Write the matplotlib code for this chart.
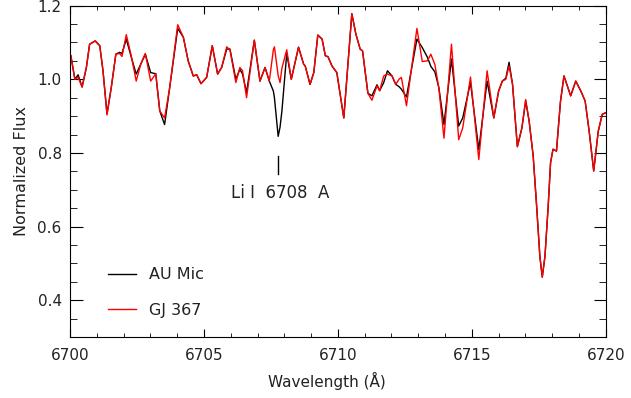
import numpy as np
import matplotlib
matplotlib.use("Agg")
import matplotlib.pyplot as plt
from matplotlib.ticker import MultipleLocator

# wavelength grid (Angstrom)
wave = [6700.03, 6700.18, 6700.30, 6700.45, 6700.61, 6700.73, 6700.94, 6701.11,
        6701.23, 6701.38, 6701.54, 6701.71, 6701.85, 6701.94, 6702.10, 6702.29,
        6702.47, 6702.64, 6702.81, 6703.01, 6703.20, 6703.35, 6703.53, 6703.72,
        6704.02, 6704.23, 6704.41, 6704.60, 6704.73, 6704.89, 6705.10, 6705.31,
        6705.51, 6705.66, 6705.85, 6705.97, 6706.19, 6706.34, 6706.44, 6706.59,
        6706.88, 6707.09, 6707.28, 6707.44, 6707.59, 6707.63, 6707.77, 6707.84,
        6707.91, 6708.09, 6708.26, 6708.53, 6708.72, 6708.78, 6708.96, 6709.10,
        6709.25, 6709.41, 6709.53, 6709.63, 6709.78, 6709.96, 6710.22, 6710.52,
        6710.67, 6710.83, 6710.92, 6711.12, 6711.27, 6711.46, 6711.56, 6711.71,
        6711.85, 6712.02, 6712.16, 6712.28, 6712.37, 6712.56, 6712.95, 6713.15,
        6713.34, 6713.47, 6713.62, 6713.77, 6713.96, 6714.24, 6714.51, 6714.66,
        6714.95, 6715.26, 6715.57, 6715.82, 6716.00, 6716.14, 6716.27, 6716.39,
        6716.52, 6716.70, 6716.87, 6717.01, 6717.14, 6717.29, 6717.42, 6717.54,
        6717.63, 6717.73, 6717.85, 6717.94, 6718.03, 6718.16, 6718.22, 6718.31,
        6718.44, 6718.69, 6718.88, 6719.07, 6719.23, 6719.38, 6719.55, 6719.72,
        6719.87, 6720.00]

# AU Mic (black)
flux_aumic = [1.064, 1.000, 1.012, 0.979, 1.032, 1.095, 1.104, 1.091,
              1.023, 0.906, 0.978, 1.068, 1.073, 1.070, 1.109, 1.059,
              1.014, 1.041, 1.068, 1.018, 1.015, 0.914, 0.877, 0.977,
              1.138, 1.114, 1.050, 1.009, 1.012, 0.988, 1.005, 1.091,
              1.014, 1.032, 1.082, 1.082, 1.000, 1.027, 1.014, 0.964,
              1.106, 0.995, 1.032, 0.995, 0.968, 0.950, 0.845, 0.870,
              0.914, 1.070, 1.000, 1.087, 1.041, 1.036, 0.986, 1.018,
              1.120, 1.109, 1.064, 1.061, 1.036, 1.018, 0.895, 1.178,
              1.123, 1.082, 1.077, 0.962, 0.955, 0.985, 0.969, 0.991,
              1.023, 1.009, 0.986, 0.980, 0.973, 0.952, 1.109, 1.086,
              1.060, 1.035, 1.020, 0.977, 0.877, 1.055, 0.873, 0.895,
              0.991, 0.809, 0.995, 0.895, 0.968, 0.995, 1.003, 1.046,
              0.986, 0.817, 0.868, 0.941, 0.886, 0.792, 0.655, 0.519,
              0.463, 0.519, 0.655, 0.774, 0.810, 0.805, 0.860, 0.940,
              1.009, 0.955, 0.995, 0.968, 0.941, 0.859, 0.751, 0.859,
              0.905, 0.909]

# GJ 367 (red)
flux_gj367 = [1.064, 1.000, 1.005, 0.979, 1.032, 1.095, 1.104, 1.091,
              1.023, 0.903, 0.978, 1.068, 1.070, 1.062, 1.121, 1.062,
              0.995, 1.041, 1.070, 0.995, 1.015, 0.914, 0.895, 0.977,
              1.148, 1.114, 1.050, 1.009, 1.012, 0.988, 1.005, 1.091,
              1.014, 1.032, 1.088, 1.080, 0.991, 1.032, 1.023, 0.950,
              1.106, 0.995, 1.032, 0.995, 1.080, 1.088, 1.010, 0.991,
              1.030, 1.080, 1.000, 1.087, 1.041, 1.036, 0.986, 1.018,
              1.120, 1.109, 1.064, 1.061, 1.036, 1.018, 0.895, 1.178,
              1.123, 1.082, 1.077, 0.962, 0.943, 0.982, 0.969, 1.009,
              1.014, 1.009, 0.986, 1.000, 1.005, 0.928, 1.138, 1.048,
              1.050, 1.068, 1.040, 0.975, 0.840, 1.095, 0.836, 0.868,
              1.006, 0.782, 1.023, 0.895, 0.968, 0.995, 1.000, 1.036,
              0.986, 0.817, 0.868, 0.945, 0.886, 0.792, 0.655, 0.519,
              0.463, 0.519, 0.655, 0.774, 0.810, 0.805, 0.860, 0.940,
              1.009, 0.955, 0.995, 0.968, 0.941, 0.859, 0.751, 0.859,
              0.905, 0.909]

li_wave = 6707.76
labels = ["AU Mic", "GJ 367"]


def main():
    plt.rcParams['font.family'] = ['DejaVu Sans']
    fig = plt.figure(figsize=(6.31, 3.98), dpi=100)
    ax = fig.add_axes([0.111, 0.153, 0.849, 0.833])

    ax.plot(wave, flux_aumic, color="black", lw=1.0, label=labels[0])
    ax.plot(wave, flux_gj367, color="red", lw=1.0, label=labels[1])

    # Li I line marker
    ax.plot([li_wave, li_wave], [0.742, 0.791], color="black", lw=1.0)
    ax.text(li_wave + 0.1, 0.69, "Li I  6708  A", ha="center", va="center",
            fontsize=12, color="#222222")

    ax.set_xlim(6700, 6720)
    ax.set_ylim(0.3, 1.2)
    ax.xaxis.set_major_locator(MultipleLocator(5))
    ax.xaxis.set_minor_locator(MultipleLocator(1))
    ax.yaxis.set_major_locator(MultipleLocator(0.2))
    ax.yaxis.set_minor_locator(MultipleLocator(0.05))
    ax.yaxis.set_major_formatter(plt.FormatStrFormatter("%.1f"))
    ax.tick_params(which="both", direction="in", top=True, right=True,
                   labelsize=11, labelcolor="#222222")
    ax.tick_params(axis="x", which="major", length=6, pad=8)
    ax.tick_params(axis="x", which="minor", length=3)
    ax.tick_params(axis="y", which="major", length=9, pad=6)
    ax.tick_params(axis="y", which="minor", length=5)

    ax.set_xlabel("Wavelength (Å)", fontsize=11, color="#222222", labelpad=2)
    ax.xaxis.set_label_coords(0.48, -0.105)
    ax.set_ylabel("Normalized Flux", fontsize=11.5, color="#222222", labelpad=6)

    leg = ax.legend(loc="upper left", bbox_to_anchor=(0.056, 0.235),
                    frameon=False, fontsize=11.5, handlelength=1.75,
                    handletextpad=0.8, labelspacing=1.3, borderpad=0)
    for t in leg.get_texts():
        t.set_color("#222222")

    fig.savefig("out.png", dpi=100)


if __name__ == "__main__":
    main()
